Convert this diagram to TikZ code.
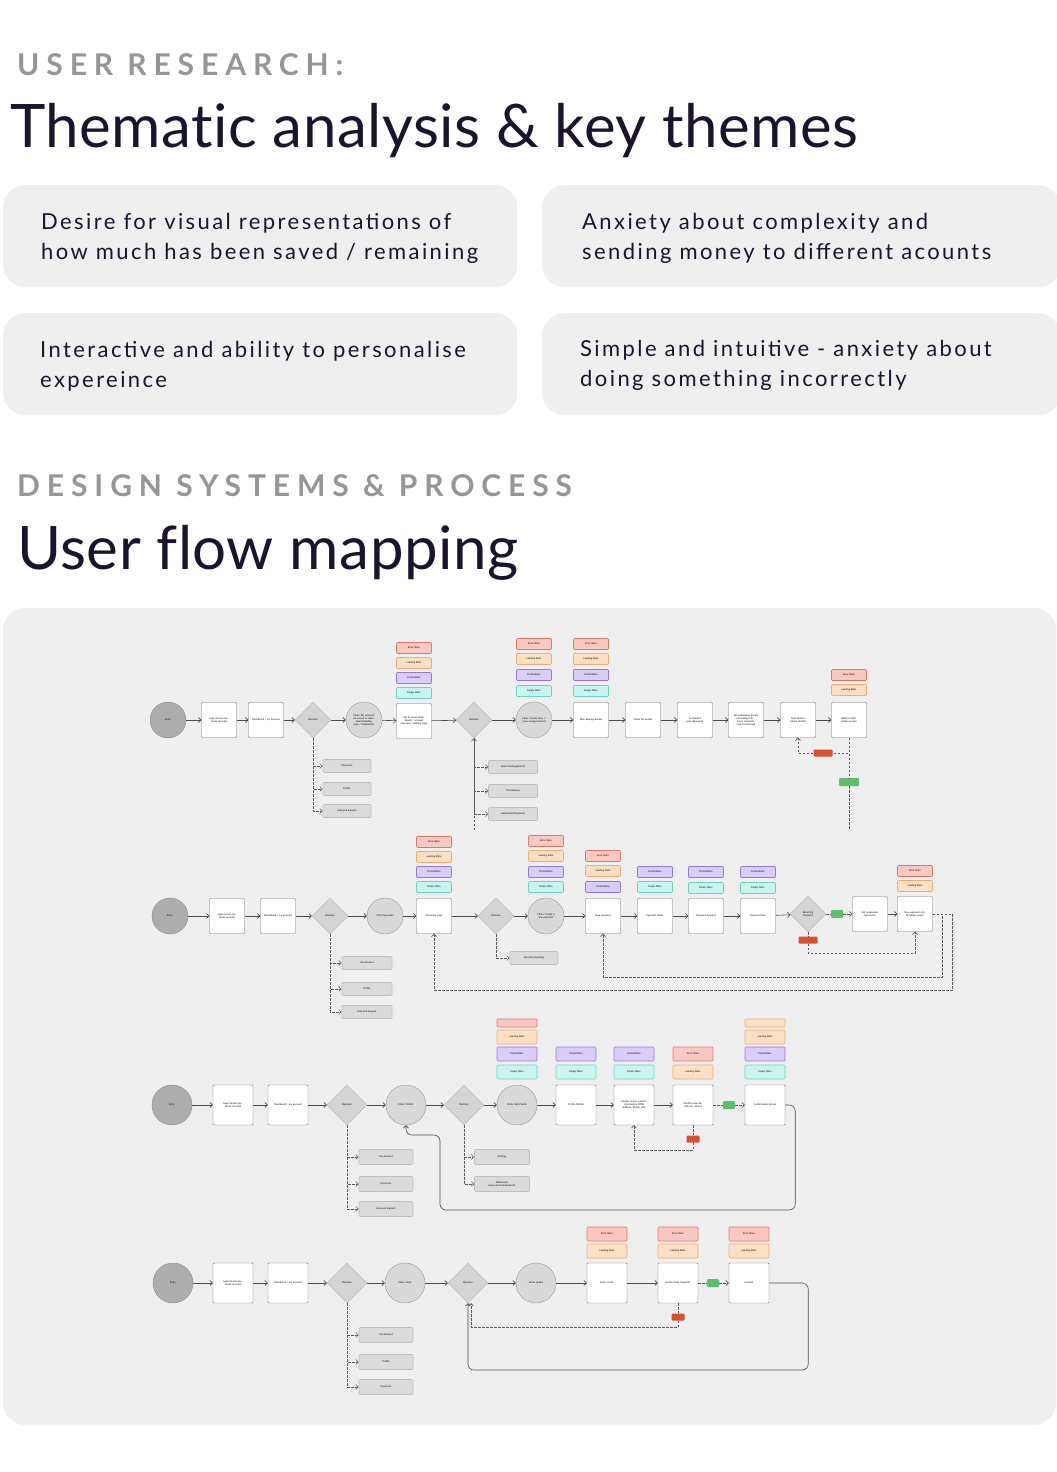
\documentclass[tikz,border=0pt]{standalone}
\usepackage{fontspec}
\setmainfont{Lato}[Ligatures={TeX,NoCommon}]
\newfontfamily\spacedfont[LetterSpace=23]{Lato}
\newfontfamily\titlefont[LetterSpace=0.8, Ligatures={TeX,NoCommon}]{Lato}
\newfontfamily\cardfont[LetterSpace=11]{Lato}
\usepackage{xcolor}
\usepackage{tikz}
\usetikzlibrary{shapes,arrows.meta,positioning,calc}
\definecolor{inkdark}{RGB}{28, 20, 45}
\definecolor{headgray}{RGB}{150, 150, 150}
\definecolor{cardgray}{RGB}{239, 239, 239}
\definecolor{errorfill}{RGB}{250, 200, 195}
\definecolor{errordraw}{RGB}{222, 120, 105}
\definecolor{loadfill}{RGB}{253, 224, 196}
\definecolor{loaddraw}{RGB}{240, 172, 118}
\definecolor{partialfill}{RGB}{218, 205, 250}
\definecolor{partialdraw}{RGB}{150, 120, 220}
\definecolor{emptyfill}{RGB}{200, 245, 238}
\definecolor{emptydraw}{RGB}{110, 210, 195}
\definecolor{nored}{RGB}{217, 80, 46}
\definecolor{yesgreen}{RGB}{95, 190, 110}
\newcommand{\flowfont}{\fontsize{2.5}{3}\selectfont}

\begin{document}
\begin{tikzpicture}[
    x=1pt, y=-1pt,
    card/.style={fill=cardgray, rounded corners=22pt},
    themecard/.style={card, anchor=north west, minimum height=102},
    themetext/.style={anchor=west, inner sep=0, yshift=-2.5pt, align=left, font=\cardfont\fontsize{22}{30}\selectfont, text=inkdark},
    entry/.style={circle, draw=black!45, fill=black!32, minimum size=36, inner sep=0, font=\flowfont},
    action/.style={circle, draw=black!40, fill=black!15, minimum size=36, inner sep=0.5, text width=27, align=center, font=\flowfont},
    screen/.style={rectangle, draw=black!55, fill=white, rounded corners=1, minimum width=35, minimum height=35, inner sep=0.5, text width=28, align=center, font=\flowfont},
    decision/.style={diamond, draw=black!30, fill=black!17, minimum size=36, inner sep=0, align=center, font=\flowfont},
    big/.style={minimum size=40, minimum width=40, minimum height=40},
    chip/.style={rectangle, rounded corners=1, minimum width=35, minimum height=11, inner sep=0, line width=0.6, font=\flowfont},
    errorchip/.style={chip, fill=errorfill, draw=errordraw},
    loadchip/.style={chip, fill=loadfill, draw=loaddraw},
    partialchip/.style={chip, fill=partialfill, draw=partialdraw},
    emptychip/.style={chip, fill=emptyfill, draw=emptydraw},
    menuitem/.style={chip, fill=black!14, draw=black!25, minimum width=48, minimum height=13, align=center},
    nochip/.style={rectangle, fill=nored, rounded corners=1, minimum width=19, minimum height=7, inner sep=0},
    yeschip/.style={rectangle, fill=yesgreen, rounded corners=1, minimum width=20, minimum height=8, inner sep=0},
    flowline/.style={-{Straight Barb[length=2.5pt, width=5pt]}, draw=black!70, line width=0.6pt},
    dashline/.style={flowline, draw=black!65, dash pattern=on 2.5pt off 1.5pt}
]

\useasboundingbox (0,0) rectangle (1057,1472);

% Headings and themes
\node[anchor=base west, inner sep=0, font=\spacedfont\bfseries\fontsize{30}{36}\selectfont, text=headgray] (urlabel) at (17,76) {USER RESEARCH:};
\node[anchor=base west, inner sep=0, font=\titlefont\fontsize{60}{70}\selectfont, text=inkdark] (urtitle) at (10,147) {Thematic analysis \& key themes};

\node[themecard, minimum width=514] (theme1) at (3,185) {};
\node[themecard, minimum width=518] (theme2) at (542,185) {};
\node[themecard, minimum width=514] (theme3) at (3,313) {};
\node[themecard, minimum width=518] (theme4) at (542,313) {};
\node[themetext] (theme1text) at ([xshift=38]theme1.west) {Desire for visual representations of\\how much has been saved / remaining};
\node[themetext] (theme2text) at ([xshift=40]theme2.west) {Anxiety about complexity and\\sending money to different acounts};
\node[themetext] (theme3text) at ([xshift=37]theme3.west) {Interactive and ability to personalise\\expereince};
\node[themetext, yshift=1pt] (theme4text) at ([xshift=38]theme4.west) {Simple and intuitive - anxiety about\\doing something incorrectly};

\node[anchor=base west, inner sep=0, font=\spacedfont\bfseries\fontsize{30}{36}\selectfont, text=headgray] (dslabel) at (17,496) {DESIGN SYSTEMS \& PROCESS};
\node[anchor=base west, inner sep=0, font=\titlefont\fontsize{60}{70}\selectfont, text=inkdark] (dstitle) at (17,569) {User flow mapping};

\fill[card] (3,608) rectangle (1056,1425);

% Flow 1 - savings bucket
\node[entry] (r1entry) at (168,720) {Entry};
\node[screen] (r1login) at (219,720) {Login Screen (account security)};
\node[screen] (r1dash) at (266,720) {Dashboard / my account};
\node[decision] (r1dec) at (313,720) {Decision};
\node[action] (r1click) at (364,720) {Clicks `My Account' on screen or dashboard (landing page / bookmarks)};
\node[screen] (r1acct) at (414,721) {My Account (dashboard) / account overview / landing page};
\node[decision] (r1dec2) at (474,720) {Decision};
\node[action] (r1create) at (534,720) {Clicks `Create New +' (new savings bucket)};
\node[screen] (r1new) at (591,720) {New Savings bucket};
\node[screen] (r1name) at (643,720) {Name for bucket};
\node[screen] (r1goal) at (695,720) {Set bucket goal (£amount)};
\node[screen] (r1auto) at (746,720) {Set automated bucket percentage (\%) -- force automatically transferred)};
\node[screen] (r1save) at (798,720) {Save bucket (check details)};
\node[screen] (r1conf) at (849,720) {Bucket confirmation screen};

\node[errorchip] (r1accterr) at (414,648) {Error State};
\node[loadchip] (r1acctload) at (414,663) {Loading State};
\node[partialchip] (r1acctpart) at (414,678) {Partial State};
\node[emptychip] (r1acctempty) at (414,693) {Empty State};
\node[errorchip] (r1createerr) at (534,644) {Error State};
\node[loadchip] (r1createload) at (534,659) {Loading State};
\node[partialchip] (r1createpart) at (534,675) {Partial State};
\node[emptychip] (r1createempty) at (534,691) {Empty State};
\node[errorchip] (r1newerr) at (591,644) {Error State};
\node[loadchip] (r1newload) at (591,659) {Loading State};
\node[partialchip] (r1newpart) at (591,675) {Partial State};
\node[emptychip] (r1newempty) at (591,691) {Empty State};
\node[errorchip] (r1conferr) at (849,675) {Error State};
\node[loadchip] (r1confload) at (849,690) {Loading State};

\node[menuitem] (r1pay) at (347,766) {Payments};
\node[menuitem] (r1prof) at (347,789) {Profile};
\node[menuitem] (r1help) at (347,811) {Help and Support};
\node[menuitem, minimum width=49] (r1select) at (513,767) {Select Existing Bucket};
\node[menuitem, minimum width=49] (r1trans) at (513,791) {Transactions};
\node[menuitem, minimum width=49] (r1autopay) at (513,814) {Automated Payments};
\node[nochip] (r1no) at (823,753) {};
\node[yeschip] (r1yes) at (849,782) {};
\coordinate (r1back) at (474,830);
\coordinate (r1down) at (849,830);

\draw[flowline] (r1entry) -- (r1login);
\draw[flowline] (r1login) -- (r1dash);
\draw[flowline] (r1dash) -- (r1dec);
\draw[flowline] (r1dec) -- (r1click);
\draw[flowline] (r1click) -- (r1acct);
\draw[flowline] (r1acct) -- (r1dec2);
\draw[flowline] (r1dec2) -- (r1create);
\draw[flowline] (r1create) -- (r1new);
\draw[flowline] (r1new) -- (r1name);
\draw[flowline] (r1name) -- (r1goal);
\draw[flowline] (r1goal) -- (r1auto);
\draw[flowline] (r1auto) -- (r1save);
\draw[flowline] (r1save) -- (r1conf);
\draw[dashline] (r1dec.south) |- (r1pay.west);
\draw[dashline] (r1dec.south) |- (r1prof.west);
\draw[dashline] (r1dec.south) |- (r1help.west);
\draw[dashline] (r1back) -- (r1dec2.south);
\draw[dashline] (r1dec2.south) |- (r1select.west);
\draw[dashline] (r1dec2.south) |- (r1trans.west);
\draw[dashline] (r1dec2.south) |- (r1autopay.west);
\draw[dashline, -] (r1conf.south) |- (r1no.east);
\draw[dashline] (r1no.west) -| (r1save.south);
\draw[dashline, -] (r1conf.south) -- (r1yes.north);
\draw[dashline, -] (r1yes.south) -- (r1down);

% Flow 2 - payments
\node[entry] (r2entry) at (170,916) {Entry};
\node[screen] (r2login) at (227,916) {Login screen (account security)};
\node[screen] (r2dash) at (278,916) {Dashboard / my account};
\node[decision] (r2dec) at (330,916) {Decision};
\node[action] (r2click) at (385,916) {Click Payments};
\node[screen] (r2page) at (434,916) {Payments page};
\node[decision] (r2dec2) at (496,916) {Decision};
\node[action] (r2create) at (546,916) {Clicks `Create a new payment'};
\node[screen] (r2new) at (603,916) {New payment};
\node[screen] (r2name) at (655,916) {Payment Name};
\node[screen] (r2amount) at (706,916) {Payment Amount};
\node[screen] (r2date) at (758,916) {Payment Date};
\node[decision] (r2recur) at (808,914) {Recurring\\Payment};
\node[screen] (r2auto) at (870,914) {Set automated recurrence};
\node[screen] (r2conf) at (915,914) {New payment confirmation screen};

\node[errorchip] (r2pageerr) at (434,842) {Error State};
\node[loadchip] (r2pageload) at (434,857) {Loading State};
\node[partialchip] (r2pagepart) at (434,872) {Partial State};
\node[emptychip] (r2pageempty) at (434,887) {Empty State};
\node[errorchip] (r2createerr) at (546,841) {Error State};
\node[loadchip] (r2createload) at (546,856) {Loading State};
\node[partialchip] (r2createpart) at (546,872) {Partial State};
\node[emptychip] (r2createempty) at (546,887) {Empty State};
\node[errorchip] (r2newerr) at (603,856) {Error State};
\node[loadchip] (r2newload) at (603,871) {Loading State};
\node[partialchip] (r2newpart) at (603,887) {Partial State};
\node[partialchip] (r2namepart) at (655,872) {Partial State};
\node[emptychip] (r2nameempty) at (655,887) {Empty State};
\node[partialchip] (r2amountpart) at (706,872) {Partial State};
\node[emptychip] (r2amountempty) at (706,888) {Empty State};
\node[partialchip] (r2datepart) at (758,872) {Partial State};
\node[emptychip] (r2dateempty) at (758,888) {Empty State};
\node[errorchip] (r2conferr) at (915,871) {Error State};
\node[loadchip] (r2confload) at (915,886) {Loading State};

\node[menuitem, minimum width=50] (r2acct) at (367,963) {My Account};
\node[menuitem, minimum width=50] (r2prof) at (367,989) {Profile};
\node[menuitem, minimum width=50] (r2help) at (367,1012) {Help and Support};
\node[menuitem] (r2paynow) at (534,958) {Pay Now (existing)};
\node[yeschip, minimum width=12] (r2yes) at (837,914) {};
\node[nochip] (r2no) at (808,940) {};

\draw[flowline] (r2entry) -- (r2login);
\draw[flowline] (r2login) -- (r2dash);
\draw[flowline] (r2dash) -- (r2dec);
\draw[flowline] (r2dec) -- (r2click);
\draw[flowline] (r2click) -- (r2page);
\draw[flowline] (r2page) -- (r2dec2);
\draw[flowline] (r2dec2) -- (r2create);
\draw[flowline] (r2create) -- (r2new);
\draw[flowline] (r2new) -- (r2name);
\draw[flowline] (r2name) -- (r2amount);
\draw[flowline] (r2amount) -- (r2date);
\draw[flowline] (r2date) -- (r2recur);
\draw[dashline, -] (r2recur) -- (r2yes);
\draw[dashline] (r2yes) -- (r2auto);
\draw[flowline] (r2auto) -- (r2conf);
\draw[dashline] (r2dec.south) |- (r2acct.west);
\draw[dashline] (r2dec.south) |- (r2prof.west);
\draw[dashline] (r2dec.south) |- (r2help.west);
\draw[dashline] (r2dec2.south) |- (r2paynow.west);
\draw[dashline, -] (r2recur.south) -- (r2no.north);
\draw[dashline] (r2no.south) -- ++(0,9.5) -| (r2conf.south);
\draw[dashline] (r2conf.east) -| ++(10,63) -| (r2new.south);
\draw[dashline] (r2conf.east) -| ++(20,76) -| (r2page.south);

% Flow 3 - profile
\node[entry, big] (r3entry) at (172,1105) {Entry};
\node[screen, big] (r3login) at (233,1105) {Login Screen (account security)};
\node[screen, big] (r3dash) at (288,1105) {Dashboard / my account};
\node[decision, big] (r3dec) at (347,1105) {Decision};
\node[action, big] (r3profile) at (406,1105) {Clicks `Profile'};
\node[decision, big] (r3dec2) at (464,1105) {Decision};
\node[action, big] (r3edit) at (517,1105) {Clicks `Edit Profile'};
\node[screen, big] (r3details) at (576,1105) {Profile Details};
\node[screen, big] (r3update) at (634,1105) {Update (name, contact information, DOB, Address, Phone, etc)};
\node[screen, big] (r3confirm) at (693,1105) {Confirm new details are correct};
\node[screen, big] (r3done) at (765,1105) {Confirmation Screen};

\node[errorchip, minimum width=40, minimum height=8] (r3editerr) at (517,1023) {};
\node[loadchip, minimum width=40, minimum height=14] (r3editload) at (517,1037) {Loading State};
\node[partialchip, minimum width=40, minimum height=14] (r3editpart) at (517,1054) {Partial State};
\node[emptychip, minimum width=40, minimum height=14] (r3editempty) at (517,1072) {Empty State};
\node[partialchip, minimum width=40, minimum height=14] (r3detailspart) at (576,1054) {Partial State};
\node[emptychip, minimum width=40, minimum height=14] (r3detailsempty) at (576,1072) {Empty State};
\node[partialchip, minimum width=40, minimum height=14] (r3updatepart) at (634,1054) {Partial State};
\node[emptychip, minimum width=40, minimum height=14] (r3updateempty) at (634,1072) {Empty State};
\node[errorchip, minimum width=40, minimum height=14] (r3confirmerr) at (693,1054) {Error State};
\node[loadchip, minimum width=40, minimum height=14] (r3confirmload) at (693,1072) {Loading State};
\node[loadchip, minimum width=40, minimum height=8] (r3donetop) at (765,1023) {};
\node[loadchip, minimum width=40, minimum height=14] (r3doneload) at (765,1037) {Loading State};
\node[partialchip, minimum width=40, minimum height=14] (r3donepart) at (765,1054) {Partial State};
\node[emptychip, minimum width=40, minimum height=14] (r3doneempty) at (765,1072) {Empty State};

\node[menuitem, minimum width=54, minimum height=15] (r3acct) at (386,1157) {My Account};
\node[menuitem, minimum width=54, minimum height=15] (r3pay) at (386,1184) {Payments};
\node[menuitem, minimum width=54, minimum height=15] (r3help) at (386,1209) {Help and Support};
\node[menuitem, minimum width=55, minimum height=15] (r3settings) at (502,1157) {Settings};
\node[menuitem, minimum width=55, minimum height=15] (r3statements) at (502,1184) {Statements\\(view recent statements)};
\node[yeschip, minimum width=12] (r3yes) at (729,1105) {};
\node[nochip, minimum width=13] (r3no) at (693,1139) {};
\coordinate (r3ret) at (440,1210);

\draw[flowline] (r3entry) -- (r3login);
\draw[flowline] (r3login) -- (r3dash);
\draw[flowline] (r3dash) -- (r3dec);
\draw[flowline] (r3dec) -- (r3profile);
\draw[flowline] (r3profile) -- (r3dec2);
\draw[flowline] (r3dec2) -- (r3edit);
\draw[flowline] (r3edit) -- (r3details);
\draw[flowline] (r3details) -- (r3update);
\draw[flowline] (r3update) -- (r3confirm);
\draw[dashline, -] (r3confirm) -- (r3yes);
\draw[dashline] (r3yes) -- (r3done);
\draw[dashline] (r3dec.south) |- (r3acct.west);
\draw[dashline] (r3dec.south) |- (r3pay.west);
\draw[dashline] (r3dec.south) |- (r3help.west);
\draw[dashline] (r3dec2.south) |- (r3settings.west);
\draw[dashline] (r3dec2.south) |- (r3statements.west);
\draw[dashline, -] (r3confirm.south) -- (r3no.north);
\draw[dashline] (r3no.south) -- ++(0,7.5) -| (r3update.south);
\draw[flowline, rounded corners=6] (r3done.east) -- ++(10,0) |- (r3ret) -- ++(0,-75) -| (r3profile.south);

% Flow 4 - help
\node[entry, big] (r4entry) at (173,1283) {Entry};
\node[screen, big] (r4login) at (233,1283) {Login Screen (account security)};
\node[screen, big] (r4dash) at (288,1283) {Dashboard / my account};
\node[decision, big] (r4dec) at (347,1283) {Decision};
\node[action, big] (r4help) at (405,1283) {Clicks `Help'};
\node[decision, big] (r4dec2) at (468,1283) {Decision};
\node[action, big] (r4option) at (536,1283) {Clicks option};
\node[screen, big] (r4helpscr) at (607,1283) {Help screen};
\node[screen, big] (r4further) at (678,1283) {Further help required?};
\node[screen, big] (r4contact) at (749,1283) {Contact};

\node[errorchip, minimum width=40, minimum height=14] (r4helpscrerr) at (607,1234) {Error State};
\node[loadchip, minimum width=40, minimum height=14] (r4helpscrload) at (607,1251) {Loading State};
\node[errorchip, minimum width=40, minimum height=14] (r4furthererr) at (678,1234) {Error State};
\node[loadchip, minimum width=40, minimum height=14] (r4furtherload) at (678,1251) {Loading State};
\node[errorchip, minimum width=40, minimum height=14] (r4contacterr) at (749,1234) {Error State};
\node[loadchip, minimum width=40, minimum height=14] (r4contactload) at (749,1251) {Loading State};

\node[menuitem, minimum width=54, minimum height=15] (r4acct) at (386,1335) {My Account};
\node[menuitem, minimum width=54, minimum height=15] (r4prof) at (386,1362) {Profile};
\node[menuitem, minimum width=54, minimum height=15] (r4pay) at (386,1387) {Payments};
\node[yeschip, minimum width=12] (r4yes) at (713,1283) {};
\node[nochip, minimum width=13] (r4no) at (678,1317) {};

\draw[flowline] (r4entry) -- (r4login);
\draw[flowline] (r4login) -- (r4dash);
\draw[flowline] (r4dash) -- (r4dec);
\draw[flowline] (r4dec) -- (r4help);
\draw[flowline] (r4help) -- (r4dec2);
\draw[flowline] (r4dec2) -- (r4option);
\draw[flowline] (r4option) -- (r4helpscr);
\draw[flowline] (r4helpscr) -- (r4further);
\draw[dashline, -] (r4further) -- (r4yes);
\draw[dashline] (r4yes) -- (r4contact);
\draw[dashline] (r4dec.south) |- (r4acct.west);
\draw[dashline] (r4dec.south) |- (r4prof.west);
\draw[dashline] (r4dec.south) |- (r4pay.west);
\draw[dashline, -] (r4further.south) -- (r4no.north);
\draw[dashline] (r4no.south) -- ++(0,6.5) -| ([xshift=3]r4dec2.south);
\draw[flowline, rounded corners=6] (r4contact.east) -| ++(39,87) -| (r4dec2.south);

\end{tikzpicture}
\end{document}
